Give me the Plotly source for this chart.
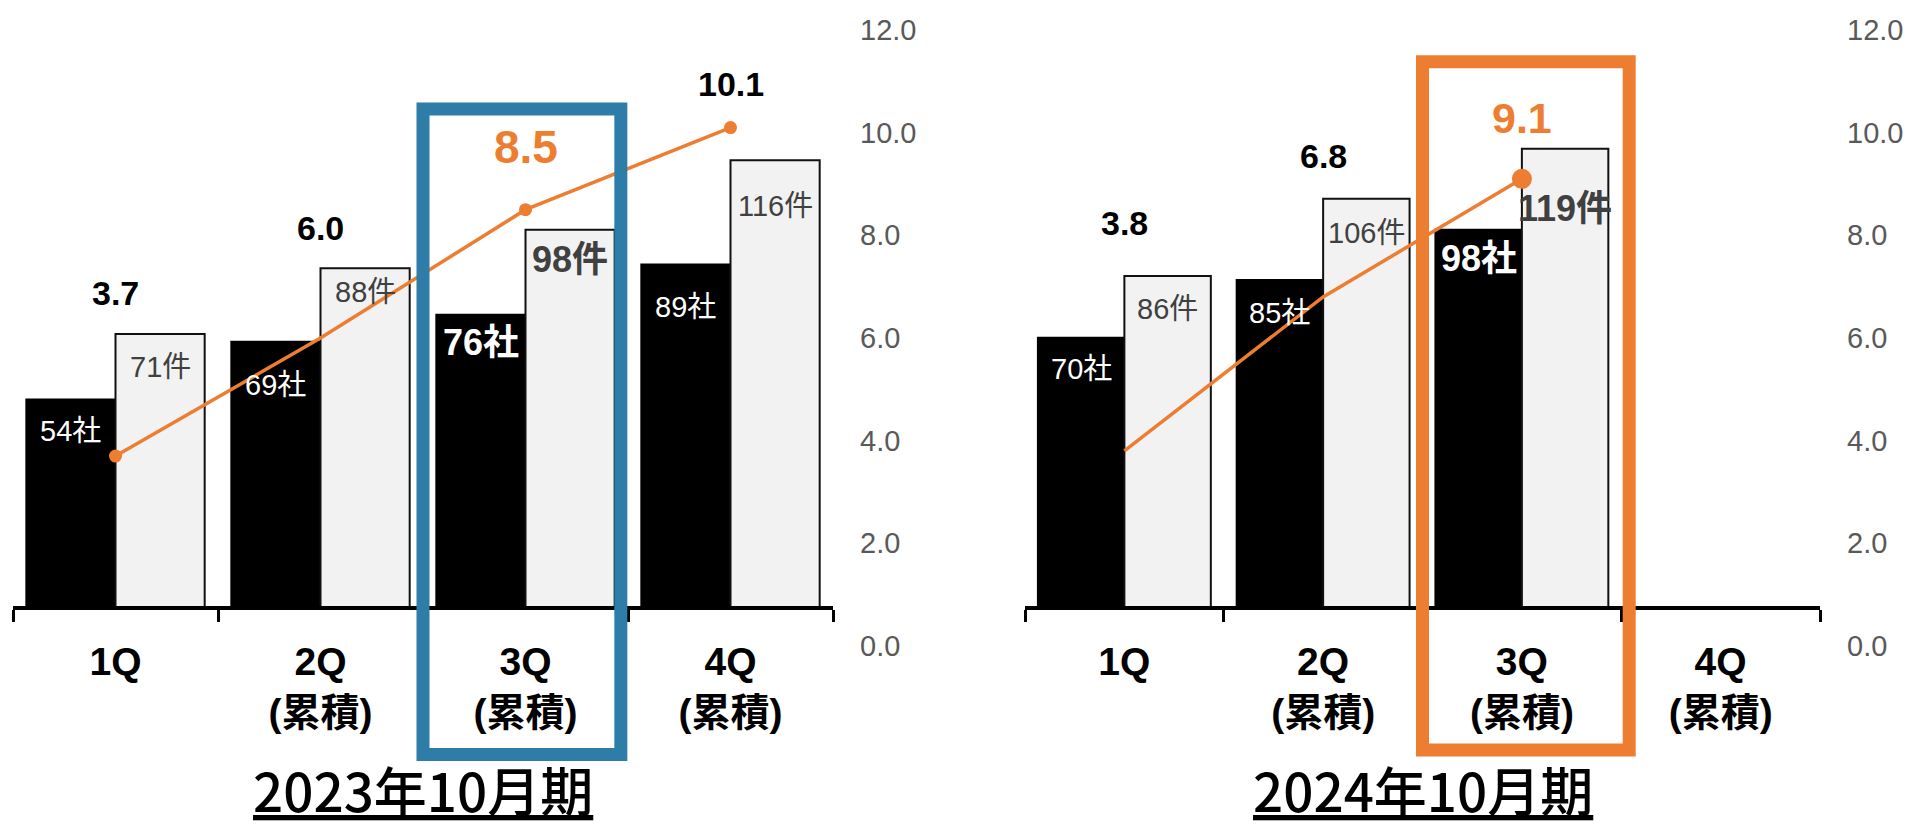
import plotly.graph_objects as go

# ---- data -------------------------------------------------------------
quarters = ["1Q", "2Q<br>(累積)", "3Q<br>(累積)", "4Q<br>(累積)"]

companies_2023 = [54, 69, 76, 89]        # 社
cases_2023 = [71, 88, 98, 116]           # 件
ratio_2023 = [3.7, 6.0, 8.5, 10.1]

companies_2024 = [70, 85, 98, None]      # 4Q not reported yet
cases_2024 = [86, 106, 119, None]
ratio_2024 = [3.8, 6.8, 9.1, None]

period_titles = ["2023年10月期", "2024年10月期"]
ratio_ticks = [0, 2, 4, 6, 8, 10, 12]
highlight_idx = 2                        # 3Q (累積) is the current quarter

# ---- styling ----------------------------------------------------------
W, H = 1914, 831
LAT = "Liberation Sans, Arial, Noto Sans CJK JP, sans-serif"
CJK = "Noto Sans CJK JP, sans-serif"
ORANGE = "#ED7D31"
BLUE = "#2E7DA9"
GREY_FILL = "#F2F2F2"
LABEL_GREY = "#404040"
BARGAP = 0.13
BASE_PX = 608            # pixel row of the bar baseline
Y2_TOP, Y2_BOT = 30, 646  # pixel rows of 12.0 and 0.0 on the ratio axis
BAR_PX_PER_UNIT = 3.86

y_dom = [1 - Y2_BOT / H, 1 - Y2_TOP / H]
y1_min = -(Y2_BOT - BASE_PX) / BAR_PX_PER_UNIT
y1_max = y1_min + (Y2_BOT - Y2_TOP) / BAR_PX_PER_UNIT

panels = [
    dict(companies=companies_2023, cases=cases_2023, ratio=ratio_2023, title=period_titles[0],
         xdom=(13, 833), frame=BLUE, frame_x=(1.5, 2.465), frame_y=(109, 754.5),
         comp_drop=[31, 43, 28, 43], case_drop=[33, 24, 30, 46],
         ratio_lift=[163, 110, 63, 44], marker_size=[13, 0, 13, 13], ratio_size=46,
         axes=("x", "y", "y2")),
    dict(companies=companies_2024, cases=cases_2024, ratio=ratio_2024, title=period_titles[1],
         xdom=(1025, 1820), frame=ORANGE, frame_x=(1.5, 2.54), frame_y=(61.7, 750),
         comp_drop=[31, 33, 29, 0], case_drop=[33, 34, 60, 0],
         ratio_lift=[228, 141, 61, 0], marker_size=[0, 0, 20, 0], ratio_size=43,
         axes=("x2", "y3", "y4")),
]

fig = go.Figure()
annotations, shapes, layout_axes = [], [], {}

for p in panels:
    xa, ya, ya2 = p["axes"]
    fig.add_trace(go.Bar(x=quarters, y=p["companies"], xaxis=xa, yaxis=ya, showlegend=False,
                         marker=dict(color="black", line=dict(color="black", width=2)),
                         hoverinfo="skip"))
    fig.add_trace(go.Bar(x=quarters, y=p["cases"], xaxis=xa, yaxis=ya, showlegend=False,
                         marker=dict(color=GREY_FILL, line=dict(color="#111111", width=2)),
                         hoverinfo="skip"))
    fig.add_trace(go.Scatter(x=quarters, y=p["ratio"], xaxis=xa, yaxis=ya2, showlegend=False,
                             mode="lines+markers", line=dict(color=ORANGE, width=3.5),
                             marker=dict(size=p["marker_size"], color=ORANGE, opacity=1,
                                         line=dict(width=0)),
                             hoverinfo="skip"))

    # axes
    n = xa[1:] or ""
    m1, m2 = ya[1:] or "", ya2[1:]
    layout_axes[f"xaxis{n}"] = dict(
        domain=[p["xdom"][0] / W, p["xdom"][1] / W], anchor="free", position=1 - BASE_PX / H,
        type="category", categoryorder="array", categoryarray=quarters, range=[-0.5, 3.5],
        showline=True, linecolor="black", linewidth=4, ticks="outside", tickson="boundaries",
        ticklen=12, tickwidth=3, tickcolor="black", showgrid=False, zeroline=False,
        automargin=False,
        tickfont=dict(family=LAT, size=39, color="black", weight="bold"), ticklabelstandoff=18,
    )
    layout_axes[f"yaxis{m1}"] = dict(domain=y_dom, range=[y1_min, y1_max], visible=False,
                                     anchor=xa, showgrid=False, zeroline=False, automargin=False)
    layout_axes[f"yaxis{m2}"] = dict(
        overlaying=ya, side="right", anchor=xa, range=[0, 12], tickvals=ratio_ticks,
        tickformat=".1f", showgrid=False, zeroline=False, showline=False, ticks="",
        automargin=False,
        tickfont=dict(family=LAT, size=29, color="#595959"), ticklabelstandoff=26,
    )

    # bar value labels
    cat_px = (p["xdom"][1] - p["xdom"][0]) / len(quarters)
    half_bar = cat_px * (1 - BARGAP) / 4
    for i, q in enumerate(quarters):
        hi = i == highlight_idx
        weight = "bold" if hi else "normal"
        size = 36 if hi else 29
        if p["companies"][i] is not None:
            annotations.append(dict(
                x=q, xref=xa, y=p["companies"][i], yref=ya, xshift=-half_bar,
                yshift=-p["comp_drop"][i], text=f"{p['companies'][i]}社", showarrow=False,
                xanchor="center", yanchor="middle",
                font=dict(family=LAT, size=size, color="white", weight=weight)))
        if p["cases"][i] is not None:
            annotations.append(dict(
                x=q, xref=xa, y=p["cases"][i], yref=ya, xshift=half_bar,
                yshift=-p["case_drop"][i], text=f"{p['cases'][i]}件", showarrow=False,
                xanchor="center", yanchor="middle",
                font=dict(family=LAT, size=size, color=LABEL_GREY, weight=weight)))
        if p["ratio"][i] is not None:
            annotations.append(dict(
                x=q, xref=xa, y=p["ratio"][i], yref=ya2, yshift=p["ratio_lift"][i],
                text=f"{p['ratio'][i]:.1f}", showarrow=False, xanchor="center", yanchor="middle",
                font=dict(family=LAT, size=p["ratio_size"] if hi else 34,
                          color=ORANGE if hi else "black", weight="bold")))

    # period title under each panel
    annotations.append(dict(
        x=0.5, xref=f"{xa} domain", y=1 - 789 / H, yref="paper", text=p["title"],
        showarrow=False, xanchor="center", yanchor="middle",
        font=dict(family=CJK, size=53, color="black", weight=500, lineposition="under")))

    # highlight frame around the current quarter
    shapes.append(dict(
        type="rect", xref=xa, yref="paper", x0=p["frame_x"][0], x1=p["frame_x"][1],
        y0=1 - p["frame_y"][1] / H, y1=1 - p["frame_y"][0] / H,
        line=dict(color=p["frame"], width=13), fillcolor="rgba(0,0,0,0)", layer="above"))

fig.update_layout(
    template="none",
    width=W, height=H, margin=dict(l=0, r=0, t=0, b=0, autoexpand=False),
    paper_bgcolor="white", plot_bgcolor="white",
    barmode="group", bargap=BARGAP, bargroupgap=0,
    annotations=annotations, shapes=shapes, showlegend=False,
    **layout_axes,
)

fig.write_html("out.html", config={"displayModeBar": False},
               post_script="document.body.style.margin='0';")
